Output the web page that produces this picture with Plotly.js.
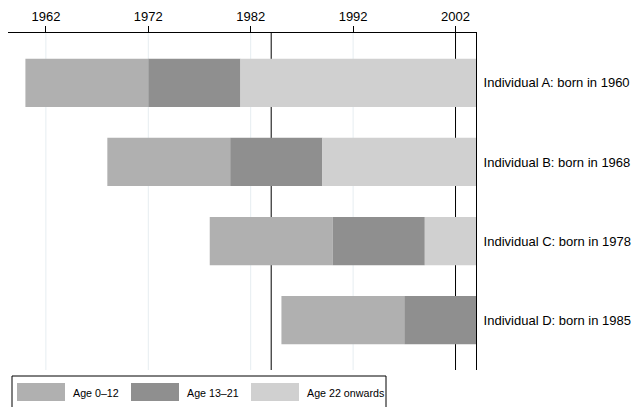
<!DOCTYPE html>
<html>
<head>
<meta charset="utf-8">
<script src="https://cdn.plot.ly/plotly-3.0.1.min.js"></script>
<style>html,body{margin:0;padding:0;background:#fff;}#chart{width:637px;height:407px;}</style>
</head>
<body>
<div id="chart"></div>
<script>
// Data
var individuals = ['Individual A: born in 1960', 'Individual B: born in 1968', 'Individual C: born in 1978', 'Individual D: born in 1985'];
var bornYear = [1960, 1968, 1978, 1985];
var age13Year = [1972, 1980, 1990, 1997];
var age22Year = [1981, 1989, 1999, 2006];
var observedEnd = 2004;
var phaseNames = ['Age 0\u201312', 'Age 13\u201321', 'Age 22 onwards'];
var phaseColors = ['#b0b0b0', '#8f8f8f', '#d0d0d0'];
var tickYears = [1962, 1972, 1982, 1992, 2002];
var refLines = [1984, 2002];

var ypos = individuals.map(function (_, i) { return i; });
function clip(v) { return Math.min(v, observedEnd); }
var starts = [bornYear, age13Year.map(clip), age22Year.map(clip)];
var ends = [age13Year.map(clip), age22Year.map(clip), bornYear.map(function () { return observedEnd; })];

var traces = phaseNames.map(function (name, k) {
  return {
    type: 'bar', orientation: 'h', name: name,
    y: ypos,
    base: starts[k],
    x: starts[k].map(function (s, i) { return ends[k][i] - s; }),
    width: 0.61,
    marker: { color: phaseColors[k], line: { width: 0 } },
    showlegend: false,
    hoverinfo: 'skip'
  };
});

// faint grid lines (drawn first), then the black reference lines, all beneath the bars
var shapes = tickYears.filter(function (yr) { return refLines.indexOf(yr) < 0; }).map(function (yr) {
  return { type: 'line', layer: 'below', xref: 'x', yref: 'paper', x0: yr, x1: yr, y0: 0, y1: 1,
           line: { color: '#e6edf1', width: 1 } };
});
refLines.forEach(function (yr) {
  shapes.push({ type: 'line', layer: 'below', xref: 'x', yref: 'paper', x0: yr, x1: yr, y0: 0, y1: 1,
                line: { color: '#000', width: 1 } });
});

// custom legend (layout only)
var plotL = 8, plotT = 33, plotW = 468, plotH = 337;
function px(x) { return (x - plotL) / plotW; }
function py(y) { return (plotT + plotH - y) / plotH; }
shapes.push({ type: 'rect', xref: 'paper', yref: 'paper', x0: px(12), x1: px(386), y0: py(376), y1: py(412),
              line: { color: '#000', width: 1 }, fillcolor: 'rgba(0,0,0,0)' });
var swatchX = [17, 131, 251];
var annotations = [];
phaseNames.forEach(function (name, k) {
  shapes.push({ type: 'rect', xref: 'paper', yref: 'paper', x0: px(swatchX[k]), x1: px(swatchX[k] + 48),
                y0: py(383), y1: py(401), line: { width: 0 }, fillcolor: phaseColors[k] });
  annotations.push({ xref: 'paper', yref: 'paper', x: px(swatchX[k] + 54), y: py(392.5), xanchor: 'left', yanchor: 'middle',
                     text: name, showarrow: false, font: { size: 10.7, color: '#000' } });
});

var layout = {
  width: 637, height: 407,
  margin: { l: 8, r: 161, t: 33, b: 37, pad: 0 },
  paper_bgcolor: '#fff', plot_bgcolor: 'rgba(0,0,0,0)',
  font: { family: 'Liberation Sans, Arial, Helvetica, sans-serif', size: 13, color: '#000' },
  barmode: 'overlay',
  showlegend: false,
  xaxis: {
    side: 'top', range: [1958.3, observedEnd], tickvals: tickYears,
    ticks: 'outside', ticklen: 6, tickcolor: '#000', tickwidth: 1,
    showline: true, linecolor: '#000', linewidth: 1,
    showgrid: false, zeroline: false,
    tickfont: { size: 13 }
  },
  yaxis: {
    side: 'right', range: [3.63, -0.63], tickvals: ypos, ticktext: individuals,
    ticks: '', showline: true, linecolor: '#000', linewidth: 1,
    showgrid: false, zeroline: false, ticklabelstandoff: 4,
    tickfont: { size: 13 }
  },
  shapes: shapes,
  annotations: annotations
};

Plotly.newPlot('chart', traces, layout, { staticPlot: true, displayModeBar: false });
</script>
</body>
</html>
